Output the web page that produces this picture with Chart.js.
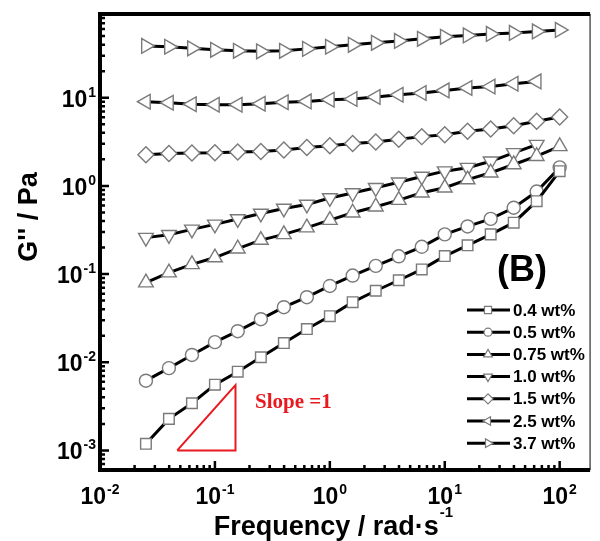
<!DOCTYPE html>
<html>
<head>
<meta charset="utf-8">
<script src="https://cdn.jsdelivr.net/npm/chart.js@4.4.1/dist/chart.umd.min.js"></script>
<style>
  body { margin: 0; background: #fff; }
  #wrap { width: 600px; height: 541px; }
</style>
</head>
<body>
<div id="wrap"><canvas id="chart"></canvas></div>
<script>
// angular frequency, rad/s (5 points per decade)
const freq = [0.0251, 0.0398, 0.0631, 0.1, 0.158, 0.251, 0.398, 0.631, 1, 1.58, 2.51, 3.98, 6.31, 10, 15.8, 25.1, 39.8, 63.1, 100]

// G'' (Pa) for each concentration
const g04 = [0.00119, 0.00228, 0.00343, 0.00557, 0.00781, 0.0114, 0.0165, 0.0238, 0.0333, 0.048, 0.0647, 0.0851, 0.113, 0.160, 0.212, 0.282, 0.383, 0.671, 1.47]
const g05 = [0.00618, 0.00859, 0.0121, 0.0169, 0.0225, 0.0308, 0.0421, 0.0547, 0.0733, 0.0962, 0.124, 0.159, 0.204, 0.282, 0.347, 0.423, 0.565, 0.864, 1.62]
const g075 = [0.080, 0.104, 0.129, 0.154, 0.194, 0.243, 0.282, 0.336, 0.409, 0.496, 0.581, 0.689, 0.836, 0.952, 1.18, 1.41, 1.75, 2.17, 2.81]
const g10 = [0.259, 0.279, 0.321, 0.366, 0.422, 0.487, 0.555, 0.616, 0.730, 0.831, 0.952, 1.10, 1.28, 1.47, 1.61, 1.90, 2.37, 2.94]
const g15 = [2.26, 2.33, 2.36, 2.37, 2.42, 2.45, 2.55, 2.72, 2.86, 3.02, 3.14, 3.39, 3.62, 3.81, 4.16, 4.43, 4.82, 5.40, 6.05]
const g25 = [9.01, 8.78, 8.44, 8.33, 8.33, 8.55, 8.89, 9.08, 9.49, 9.67, 10.2, 10.8, 11.3, 12.1, 12.9, 13.4, 14.4, 15.3]
const g37 = [38.7, 37.8, 36.3, 34.9, 34.0, 33.6, 34.0, 35.8, 37.8, 39.8, 41.9, 44.1, 46.5, 49.0, 50.9, 52.9, 54.3, 56.5, 58.7]

const seriesNames = ['0.4 wt%', '0.5 wt%', '0.75 wt%', '1.0 wt%', '1.5 wt%', '2.5 wt%', '3.7 wt%']

// slope = 1 guide triangle
const slopeX = [0.047, 0.151, 0.151, 0.047]
const slopeY = [0.001, 0.001, 0.0055, 0.001]

const xMajor = [0.01, 0.1, 1, 10, 100]
const yMajor = [0.001, 0.01, 0.1, 1, 10]

function pts(ys) {
    return ys.map((v, i) => ({ x: freq[i], y: v }))
}

const markerGrey = '#7a7a7a'
const styles = [
    { data: g04, pointStyle: 'rect', rotation: 0, radius: 7.5 },
    { data: g05, pointStyle: 'circle', rotation: 0, radius: 6.5 },
    { data: g075, pointStyle: 'triangle', rotation: 0, radius: 8.5 },
    { data: g10, pointStyle: 'triangle', rotation: 180, radius: 8.5 },
    { data: g15, pointStyle: 'rectRot', rotation: 0, radius: 8 },
    { data: g25, pointStyle: 'triangle', rotation: 270, radius: 8.5 },
    { data: g37, pointStyle: 'triangle', rotation: 90, radius: 8.5 },
]

const datasets = styles.map((s, i) => ({
    label: seriesNames[i],
    data: pts(s.data),
    borderColor: '#000',
    borderWidth: 3,
    pointStyle: s.pointStyle,
    pointRotation: s.rotation,
    pointRadius: s.radius,
    pointBorderColor: markerGrey,
    pointBackgroundColor: '#fff',
    pointBorderWidth: 1.4,
    tension: 0
}))

datasets.push({
    label: 'slope',
    data: slopeX.map((x, i) => ({ x: x, y: slopeY[i] })),
    borderColor: '#e8191f',
    borderWidth: 2,
    pointRadius: 0,
    tension: 0
})

function minorTicks(lo, hi) {
    let out = []
    for (let e = -4; e <= 3; e++) {
        for (let m = 2; m <= 9; m++) {
            let v = m * Math.pow(10, e)
            if (v > lo && v < hi) out.push(v)
        }
    }
    return out
}

function drawPow(ctx, exp, x, y, align) {
    // "10" with raised exponent
    ctx.font = 'bold 23px "Liberation Sans", Arial, sans-serif'
    let baseW = ctx.measureText('10').width
    ctx.font = 'bold 14px "Liberation Sans", Arial, sans-serif'
    let expW = ctx.measureText(exp).width
    let total = baseW + expW + 1
    let left = align === 'right' ? x - total : x - total / 2
    ctx.textAlign = 'left'
    ctx.textBaseline = 'alphabetic'
    ctx.font = 'bold 23px "Liberation Sans", Arial, sans-serif'
    ctx.fillText('10', left, y)
    ctx.font = 'bold 14px "Liberation Sans", Arial, sans-serif'
    ctx.fillText(exp, left + baseW + 1, y - 10)
}

const decorPlugin = {
    id: 'decor',
    afterDraw(chart) {
        const ctx = chart.ctx
        const a = chart.chartArea
        const xs = chart.scales.x
        const ys = chart.scales.y
        ctx.save()
        ctx.fillStyle = '#000'
        ctx.strokeStyle = '#000'

        // frame
        ctx.lineWidth = 1.5
        ctx.strokeStyle = '#555'
        ctx.beginPath()
        ctx.moveTo(a.right, a.top)
        ctx.lineTo(a.right, a.bottom)
        ctx.stroke()
        ctx.strokeStyle = '#000'
        ctx.lineWidth = 4
        ctx.beginPath()
        ctx.moveTo(a.right, a.top)
        ctx.lineTo(a.left, a.top)
        ctx.lineTo(a.left, a.bottom)
        ctx.lineTo(a.right, a.bottom)
        ctx.stroke()

        // inward ticks
        ctx.lineWidth = 2.5
        ctx.beginPath()
        xMajor.forEach(v => {
            let px = xs.getPixelForValue(v)
            ctx.moveTo(px, a.bottom); ctx.lineTo(px, a.bottom - 9)
        })
        minorTicks(xs.min, xs.max).forEach(v => {
            let px = xs.getPixelForValue(v)
            ctx.moveTo(px, a.bottom); ctx.lineTo(px, a.bottom - 5)
        })
        yMajor.forEach(v => {
            let py = ys.getPixelForValue(v)
            ctx.moveTo(a.left, py); ctx.lineTo(a.left + 9, py)
        })
        minorTicks(ys.min, ys.max).forEach(v => {
            let py = ys.getPixelForValue(v)
            ctx.moveTo(a.left, py); ctx.lineTo(a.left + 5, py)
        })
        ctx.stroke()

        // tick labels
        xMajor.forEach(v => {
            let px = xs.getPixelForValue(v)
            drawPow(ctx, String(Math.round(Math.log10(v))), px, a.bottom + 34, 'center')
        })
        yMajor.forEach(v => {
            let py = ys.getPixelForValue(v)
            drawPow(ctx, String(Math.round(Math.log10(v))), a.left - 4, py + 9, 'right')
        })

        // axis titles
        ctx.font = 'bold 27px "Liberation Sans", Arial, sans-serif'
        ctx.textBaseline = 'alphabetic'
        let t = 'Frequency / rad\u00b7s'
        let tw = ctx.measureText(t).width
        ctx.font = 'bold 15px "Liberation Sans", Arial, sans-serif'
        let sw = ctx.measureText('-1').width
        let tx = 333 - (tw + sw) / 2
        ctx.font = 'bold 27px "Liberation Sans", Arial, sans-serif'
        ctx.textAlign = 'left'
        ctx.fillText(t, tx, 535)
        ctx.font = 'bold 15px "Liberation Sans", Arial, sans-serif'
        ctx.fillText('-1', tx + tw + 1, 517)

        ctx.save()
        ctx.translate(37, 217)
        ctx.rotate(-Math.PI / 2)
        ctx.textAlign = 'center'
        ctx.font = 'bold 27px "Liberation Sans", Arial, sans-serif'
        ctx.fillText('G\'\' / Pa', 0, 0)
        ctx.restore()

        // panel tag
        ctx.textAlign = 'center'
        ctx.font = 'bold 36px "Liberation Sans", Arial, sans-serif'
        ctx.fillText('(B)', 522, 281)

        // slope note
        ctx.fillStyle = '#e8191f'
        ctx.textAlign = 'left'
        ctx.font = 'bold 21px "Liberation Serif", "Times New Roman", serif'
        ctx.fillText('Slope =1', 255, 408)

        // legend
        ctx.fillStyle = '#000'
        ctx.font = 'bold 17px "Liberation Sans", Arial, sans-serif'
        ctx.textBaseline = 'middle'
        chart.data.datasets.slice(0, seriesNames.length).forEach((ds, i) => {
            let ly = 310 + 22.2 * i
            ctx.strokeStyle = '#000'
            ctx.lineWidth = 3
            ctx.beginPath()
            ctx.moveTo(467, ly); ctx.lineTo(510, ly)
            ctx.stroke()
            ctx.fillStyle = '#fff'
            ctx.strokeStyle = markerGrey
            ctx.lineWidth = 1.2
            Chart.helpers.drawPoint(ctx, {
                pointStyle: ds.pointStyle,
                rotation: ds.pointRotation,
                radius: ds.pointStyle === 'circle' ? 4 : 5,
                borderWidth: 1.2
            }, 488, ly)
            ctx.fillStyle = '#000'
            ctx.fillText(ds.label, 513, ly + 1)
        })
        ctx.restore()
    }
}

new Chart(document.getElementById('chart'), {
    type: 'line',
    data: { datasets: datasets },
    options: {
        responsive: true,
        maintainAspectRatio: false,
        animation: false,
        layout: { padding: { left: 0, right: 2, top: 14, bottom: 0 } },
        plugins: { legend: { display: false }, tooltip: { enabled: false } },
        scales: {
            x: {
                type: 'logarithmic',
                min: 0.01,
                max: 184,
                grid: { display: false },
                border: { display: false },
                ticks: { display: false },
                afterFit: (s) => { s.height = 71 }
            },
            y: {
                type: 'logarithmic',
                min: 0.00062,
                max: 89,
                grid: { display: false },
                border: { display: false },
                ticks: { display: false },
                afterFit: (s) => { s.width = 100 }
            }
        }
    },
    plugins: [decorPlugin]
})
</script>
</body>
</html>
